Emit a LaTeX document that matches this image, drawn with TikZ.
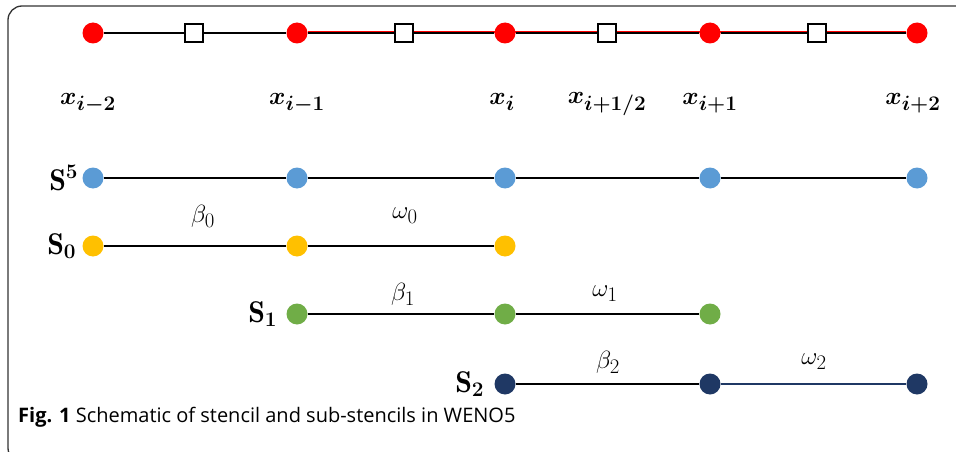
\documentclass[tikz,border=0pt]{standalone}
\usepackage{amsmath,amssymb,bm}
\usepackage{fontspec}
\newfontfamily\capfont{Open Sans}
\usetikzlibrary{positioning}

\definecolor{ptred}{RGB}{255,0,0}
\definecolor{ptblue}{RGB}{91,155,213}
\definecolor{ptorange}{RGB}{255,192,0}
\definecolor{ptgreen}{RGB}{112,173,71}
\definecolor{ptnavy}{RGB}{31,56,100}
\definecolor{framegray}{RGB}{50,50,50}

\tikzset{
    stencilpt/.style={circle, fill=#1, minimum size=21pt, inner sep=0pt},
    cell/.style={draw, line width=1.4pt, fill=white, minimum size=18pt, inner sep=0pt},
    bar/.style={line width=2.4pt, black},
    xlab/.style={font=\fontsize{30}{34}\selectfont, inner sep=0pt},
    slab/.style={font=\fontsize{30}{34}\selectfont, inner sep=0pt},
    wlab/.style={font=\fontsize{29}{33}\selectfont, inner sep=0pt}
}

\begin{document}
\begin{tikzpicture}[x=1pt, y=-1pt]
    \useasboundingbox (0, 0) rectangle (956, 452);
    \draw[framegray, line width=1.3pt, rounded corners=14pt] (975, 6) -- (8, 6) -- (8, 462) -- (40, 462);

    % full grid with cell faces
    \node[stencilpt=ptred] (g0) at (93, 33) {};
    \node[stencilpt=ptred] (g1) at (297, 33) {};
    \node[stencilpt=ptred] (g2) at (505, 33) {};
    \node[stencilpt=ptred] (g3) at (710, 33) {};
    \node[stencilpt=ptred] (g4) at (917, 33) {};
    \node[cell] (h0) at (194, 33) {};
    \node[cell] (h1) at (404, 33) {};
    \node[cell] (h2) at (607, 33) {};
    \node[cell] (h3) at (817, 33) {};
    \draw[ptred, line width=2.4pt] ([yshift=1pt]g1.east) -- ([yshift=1pt]h1.west);
    \draw[ptred, line width=2.4pt] ([yshift=1pt]h1.east) -- ([yshift=1pt]g2.west) -- ([yshift=1pt]h2.west);
    \draw[ptred, line width=2.4pt] ([yshift=1pt]h2.east) -- ([yshift=1pt]g3.west) -- ([yshift=1pt]h3.west);
    \draw[ptred, line width=2.4pt] ([yshift=1pt]h3.east) -- ([yshift=1pt]g4.west);
    \draw[bar] (g0) -- (h0) -- (g1) -- (h1) -- (g2) -- (h2) -- (g3) -- (h3) -- (g4);

    \node[xlab, below=50pt of g0, xshift=-5pt] (x0) {$\bm{x_{i-2}}$};
    \node[xlab, below=50pt of g1] (x1) {$\bm{x_{i-1}}$};
    \node[xlab, below=50pt of g2, xshift=-3pt] (x2) {$\bm{x_{i}}$};
    \node[xlab, below=50pt of h2] (xh) {$\bm{x_{i+1/2}}$};
    \node[xlab, below=50pt of g3] (x3) {$\bm{x_{i+1}}$};
    \node[xlab, below=50pt of g4, xshift=-4pt] (x4) {$\bm{x_{i+2}}$};

    % big stencil
    \node[stencilpt=ptblue] (a0) at (93, 178) {};
    \node[stencilpt=ptblue] (a1) at (297, 178) {};
    \node[stencilpt=ptblue] (a2) at (505, 178) {};
    \node[stencilpt=ptblue] (a3) at (710, 178) {};
    \node[stencilpt=ptblue] (a4) at (917, 178) {};
    \draw[bar] (a0) -- (a1) -- (a2) -- (a3) -- (a4);
    \node[slab, left=4pt of a0] (s5) {$\bm{\mathrm{S}^5}$};

    % sub-stencil 0
    \node[stencilpt=ptorange] (b0) at (93, 246) {};
    \node[stencilpt=ptorange] (b1) at (297, 246) {};
    \node[stencilpt=ptorange] (b2) at (505, 246) {};
    \draw[bar] (b0) -- (b1) -- (b2);
    \node[slab, left=6pt of b0] (s0) {$\bm{\mathrm{S}_0}$};
    \node[wlab] (beta0) at (203, 216) {$\beta_0$};
    \node[wlab] (omega0) at (405, 216) {$\omega_0$};

    % sub-stencil 1
    \node[stencilpt=ptgreen] (c0) at (297, 314) {};
    \node[stencilpt=ptgreen] (c1) at (505, 314) {};
    \node[stencilpt=ptgreen] (c2) at (710, 314) {};
    \draw[bar] (c0) -- (c1) -- (c2);
    \node[slab, left=9pt of c0] (s1) {$\bm{\mathrm{S}_1}$};
    \node[wlab] (beta1) at (403, 294) {$\beta_1$};
    \node[wlab] (omega1) at (605, 294) {$\omega_1$};

    % sub-stencil 2
    \node[stencilpt=ptnavy] (d0) at (505, 384) {};
    \node[stencilpt=ptnavy] (d1) at (710, 384) {};
    \node[stencilpt=ptnavy] (d2) at (917, 384) {};
    \draw[bar] (d0) -- (d1);
    \draw[ptnavy, line width=2pt] (d1) -- (d2);
    \node[slab, left=10pt of d0] (s2) {$\bm{\mathrm{S}_2}$};
    \node[wlab] (beta2) at (608, 362) {$\beta_2$};
    \node[wlab] (omega2) at (814, 362) {$\omega_2$};

    \node[anchor=base west, inner sep=0pt, font=\capfont\fontsize{20}{24}\selectfont] (cap) at (18, 422)
        {\textbf{Fig. 1} Schematic of stencil and sub-stencils in WENO5};
\end{tikzpicture}
\end{document}
